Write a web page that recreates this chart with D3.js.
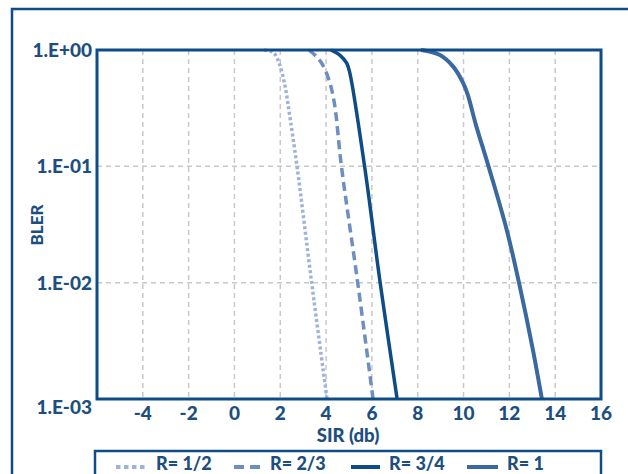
<!DOCTYPE html>
<html><head><meta charset="utf-8">
<script src="https://cdn.jsdelivr.net/npm/d3@7"></script>
<style>body{margin:0;background:#fff}svg{display:block}text{font-family:Lato,"Open Sans",sans-serif;font-weight:900;fill:#1c4f80}</style>
</head><body><svg id="c" width="628" height="474"></svg>
<script>
const xTicks = [-4,-2,0,2,4,6,8,10,12,14,16];
const yTicks = [1,0.1,0.01,0.001];
const yTickLabels = ["1.E+00","1.E-01","1.E-02","1.E-03"];
const seriesNames = ["R= 1/2","R= 2/3","R= 3/4","R= 1"];
const r12 = [[1.3,1],[1.7,0.95],[1.95,0.77],[2.2,0.5],[2.38,0.3],[2.73,0.1],[3.37,0.01],[4.04,0.001]];
const r23 = [[3.25,1],[3.52,0.9],[3.81,0.77],[4.13,0.55],[4.36,0.35],[4.67,0.1],[5.38,0.01],[6.05,0.001]];
const r34 = [[4.21,1],[4.61,0.9],[4.9,0.77],[5.04,0.63],[5.68,0.1],[6.36,0.01],[7.1,0.001]];
const r1 = [[8.14,1],[8.97,0.906],[9.55,0.72],[9.99,0.517],[10.19,0.41],[10.54,0.227],[11.09,0.1],[11.88,0.0287],[12.42,0.01],[13.03,0.00263],[13.42,0.001]];
const series = [r12,r23,r34,r1];
const colors = ["#9fb3d8","#6d8ec0","#0d4c86","#3a68a0"];
const widths = [3.5,3.5,3.5,4];
const dashes = ["3,2.5","9,5",null,null];

const svg = d3.select("#c");
const L=97,R=601,T=50,B=399;
const x = d3.scaleLinear().domain([-6,16]).range([L,R]);
const y = d3.scaleLog().domain([0.001,1]).range([B,T]);

// outer frame
svg.append("rect").attr("x",12).attr("y",9).attr("width",640).attr("height",500)
  .attr("fill","none").attr("stroke","#0d4c86").attr("stroke-width",2.5);

// grid
const g = svg.append("g");
g.selectAll("line.v").data(xTicks.filter(d=>d<16)).join("line")
  .attr("x1",d=>x(d)).attr("x2",d=>x(d)).attr("y1",T).attr("y2",B)
  .attr("stroke","#c8c8c8").attr("stroke-width",1.5).attr("stroke-dasharray","5,4");
g.selectAll("line.h").data([0.1,0.01]).join("line").attr("class","h")
  .attr("x1",L).attr("x2",R).attr("y1",d=>y(d)).attr("y2",d=>y(d))
  .attr("stroke","#c8c8c8").attr("stroke-width",1.5).attr("stroke-dasharray","5,4");

// lines
const line = d3.line().x(d=>x(d[0])).y(d=>y(d[1])).curve(d3.curveCatmullRom.alpha(0.5));
svg.append("clipPath").attr("id","cp").append("rect").attr("x",L).attr("y",T-2).attr("width",R-L).attr("height",B-T+2);
series.forEach((s,i)=>{
  svg.append("path").attr("d",line(s)).attr("fill","none").attr("stroke",colors[i])
    .attr("stroke-width",widths[i]).attr("stroke-dasharray",dashes[i]).attr("clip-path","url(#cp)");
});

// plot frame
svg.append("rect").attr("x",L).attr("y",T).attr("width",R-L).attr("height",B-T)
  .attr("fill","none").attr("stroke","#0d4c86").attr("stroke-width",3);

// x tick labels
svg.append("g").selectAll("text").data(xTicks).join("text")
  .attr("x",d=>x(d)).attr("y",420).attr("text-anchor","middle").style("font-size","19px").text(d=>d);
// y tick labels
svg.append("g").selectAll("text").data(yTicks).join("text")
  .attr("x",92).attr("y",(d,i)=>(i===3?y(d)+8:y(d))+7).attr("text-anchor","end").style("font-size","19px")
  .text((d,i)=>yTickLabels[i]);

svg.append("text").attr("x",348).attr("y",442).attr("text-anchor","middle").style("font-size","18.5px").text("SIR (db)");
svg.append("text").attr("transform","translate(43,225) rotate(-90)").attr("text-anchor","middle").style("font-size","17px").text("BLER");

// legend
svg.append("rect").attr("x",95).attr("y",451).attr("width",506).attr("height",40)
  .attr("fill","none").attr("stroke","#0d4c86").attr("stroke-width",2.5);
const legX = [116,234,351,467];
const legW = [31,27,29,31];
const legDash = ["4.5,3.5","10,6",null,null];
seriesNames.forEach((n,i)=>{
  svg.append("line").attr("x1",legX[i]).attr("x2",legX[i]+legW[i]).attr("y1",467).attr("y2",467)
    .attr("stroke",colors[i]).attr("stroke-width",4).attr("stroke-dasharray",legDash[i]);
  svg.append("text").attr("x",legX[i]+legW[i]+9).attr("y",470).style("font-size","18px").text(n);
});
</script></body></html>
